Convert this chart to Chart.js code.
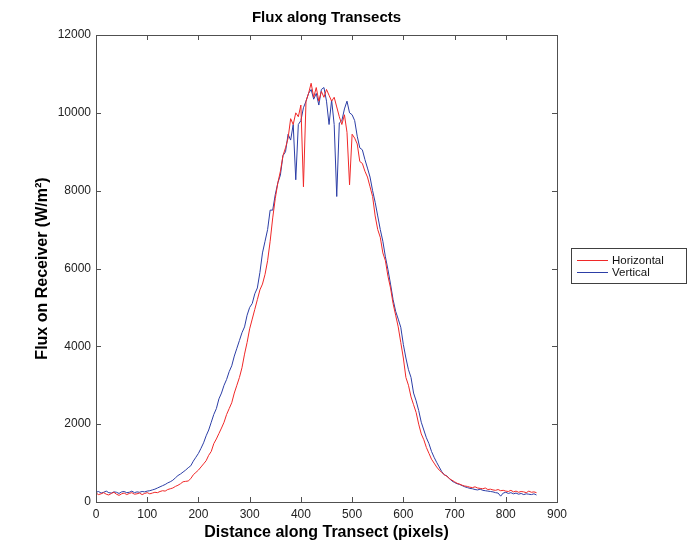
<!DOCTYPE html>
<html>
<head>
<meta charset="utf-8">
<script src="https://cdn.jsdelivr.net/npm/chart.js@4/dist/chart.umd.min.js"></script>
<style>
html,body{margin:0;padding:0;background:#fff;}
#wrap{width:691px;height:543px;}
</style>
</head>
<body>
<div id="wrap"><canvas id="c" width="691" height="543"></canvas></div>
<script>
// distance along transect (pixels), sampled every 5
const xs = [];
for (let i = 0; i <= 860; i += 5) xs.push(i);

const horizontal = [
  230,190,210,240,200,180,220,250,200,170, 210,230,190,220,240,200,210,230,190,220,
  240,210,230,250,240,270,290,280,320,340, 360,400,430,470,520,530,540,600,700,760,
  820,900,980,1060,1200,1300,1500,1620,1760,1900, 2050,2250,2400,2550,2800,3000,3200,3450,3800,4100,
  4450,4700,4950,5200,5450,5600,5850,6200,6700,7300, 7800,8200,8500,8900,9100,9350,9850,9700,10000,9900,
  10200,8100,10300,10500,10760,10400,10650,10300,10550,10400, 10600,10450,10300,10400,10150,9900,9700,9950,9500,8150,
  9450,9350,9200,8750,8700,8500,8350,8100,7850,7350, 7000,6800,6400,6200,5800,5500,5100,4800,4500,4100,
  3700,3200,3000,2700,2500,2300,2000,1750,1600,1400, 1250,1100,1000,900,820,760,700,660,600,560,
  520,480,460,430,410,400,380,370,390,360, 350,340,360,320,330,310,300,320,290,300,
  280,270,300,260,280,250,270,260,240,280, 250,260,240
];

const vertical = [
  250,270,230,250,280,240,230,260,250,220, 260,270,240,250,280,240,260,250,270,260,
  280,290,310,330,360,390,420,450,490,520, 560,620,680,720,770,820,880,930,1050,1150,
  1250,1380,1520,1700,1850,2050,2250,2400,2650,2800, 3000,3150,3350,3500,3750,3950,4150,4350,4500,4800,
  5000,5100,5350,5500,5900,6400,6700,7000,7500,7500, 7900,8200,8400,8900,9000,9450,9300,9700,8280,9700,
  9800,10130,10300,10500,10600,10350,10500,10200,10600,10650, 10300,9700,10330,9700,7850,9740,9800,10100,10300,10000,
  9950,9800,9400,9100,9050,8800,8580,8350,8000,7700, 7350,7000,6700,6300,5970,5600,5200,4900,4700,4490,
  4050,3700,3400,3200,2800,2600,2350,2050,1850,1650, 1500,1300,1150,1020,900,780,700,670,600,540,
  500,470,450,420,390,370,350,340,320,310, 330,300,290,280,270,260,240,230,150,230,
  250,220,240,210,230,200,220,190,210,200, 190,210,180
];

const seriesNames = ['Horizontal', 'Vertical'];
const seriesColors = ['#f02828', '#2c3ea6'];
const xTicks = [0,100,200,300,400,500,600,700,800,900];
const yTicks = [0,2000,4000,6000,8000,10000,12000];

const FONT = '"Liberation Sans", Arial, Helvetica, sans-serif';

// box around the axes with inward tick marks on all four sides (matlab style)
const boxPlugin = {
  id: 'box',
  afterDraw(chart) {
    const {ctx, chartArea: a, scales: {x, y}} = chart;
    ctx.save();
    ctx.strokeStyle = '#505050';
    ctx.lineWidth = 1;
    ctx.strokeRect(a.left + 0.5, a.top + 0.5, a.right - a.left, a.bottom - a.top);
    ctx.beginPath();
    const L = 5;
    xTicks.forEach(v => {
      const px = Math.round(x.getPixelForValue(v)) + 0.5;
      ctx.moveTo(px, a.bottom); ctx.lineTo(px, a.bottom - L);
      ctx.moveTo(px, a.top); ctx.lineTo(px, a.top + L);
    });
    yTicks.forEach(v => {
      const py = Math.round(y.getPixelForValue(v)) + 0.5;
      ctx.moveTo(a.left, py); ctx.lineTo(a.left + L, py);
      ctx.moveTo(a.right, py); ctx.lineTo(a.right - L, py);
    });
    ctx.stroke();

    // title
    ctx.fillStyle = '#000';
    ctx.font = 'bold 15px ' + FONT;
    ctx.textAlign = 'center';
    ctx.textBaseline = 'middle';
    ctx.fillText('Flux along Transects', (a.left + a.right) / 2, 18);

    // legend, outside on the right
    const lx = 571, ly = 248, lw = 115, lh = 35;
    ctx.fillStyle = '#fff';
    ctx.fillRect(lx, ly, lw, lh);
    ctx.strokeStyle = '#404040';
    ctx.strokeRect(lx + 0.5, ly + 0.5, lw, lh);
    ctx.font = '11.5px ' + FONT;
    ctx.textAlign = 'left';
    chart.data.datasets.forEach((ds, i) => {
      const yy = ly + 12 + i * 12;
      ctx.strokeStyle = ds.borderColor;
      ctx.beginPath();
      ctx.moveTo(lx + 6, yy + 0.5); ctx.lineTo(lx + 37, yy + 0.5);
      ctx.stroke();
      ctx.fillStyle = '#111';
      ctx.fillText(ds.label, lx + 41, yy + 1);
    });
    ctx.restore();
  }
};

const datasets = [horizontal, vertical].map((vals, i) => ({
  label: seriesNames[i],
  data: vals.map((v, j) => ({x: xs[j], y: v})),
  borderColor: seriesColors[i],
  borderWidth: 1,
  pointRadius: 0,
  tension: 0,
  fill: false
}));

new Chart(document.getElementById('c'), {
  type: 'line',
  data: {datasets},
  plugins: [boxPlugin],
  options: {
    responsive: false,
    animation: false,
    layout: {padding: {left: 0, right: 134, top: 35, bottom: 0}},
    plugins: {legend: {display: false}, tooltip: {enabled: false}, title: {display: false}},
    scales: {
      x: {
        type: 'linear', min: 0, max: 900,
        afterBuildTicks: s => { s.ticks = xTicks.map(v => ({value: v})); },
        afterFit: s => { s.height = 41; },
        grid: {display: false, drawTicks: false},
        border: {display: false},
        ticks: {padding: 5, color: '#222', font: {family: FONT, size: 12}, maxRotation: 0,
                callback: v => String(v)},
        title: {display: true, text: 'Distance along Transect (pixels)', color: '#000',
                font: {family: FONT, size: 16, weight: 'bold'}, padding: {top: 0, bottom: 1}}
      },
      y: {
        type: 'linear', min: 0, max: 12000,
        afterBuildTicks: s => { s.ticks = yTicks.map(v => ({value: v})); },
        afterFit: s => { s.width = 96; },
        grid: {display: false, drawTicks: false},
        border: {display: false},
        ticks: {padding: 5, color: '#222', font: {family: FONT, size: 12},
                callback: v => String(v)},
        title: {display: true, text: 'Flux on Receiver (W/m²)', color: '#000',
                font: {family: FONT, size: 16, weight: 'bold'}, padding: {top: 33, bottom: 0}}
      }
    }
  }
});
</script>
</body>
</html>
